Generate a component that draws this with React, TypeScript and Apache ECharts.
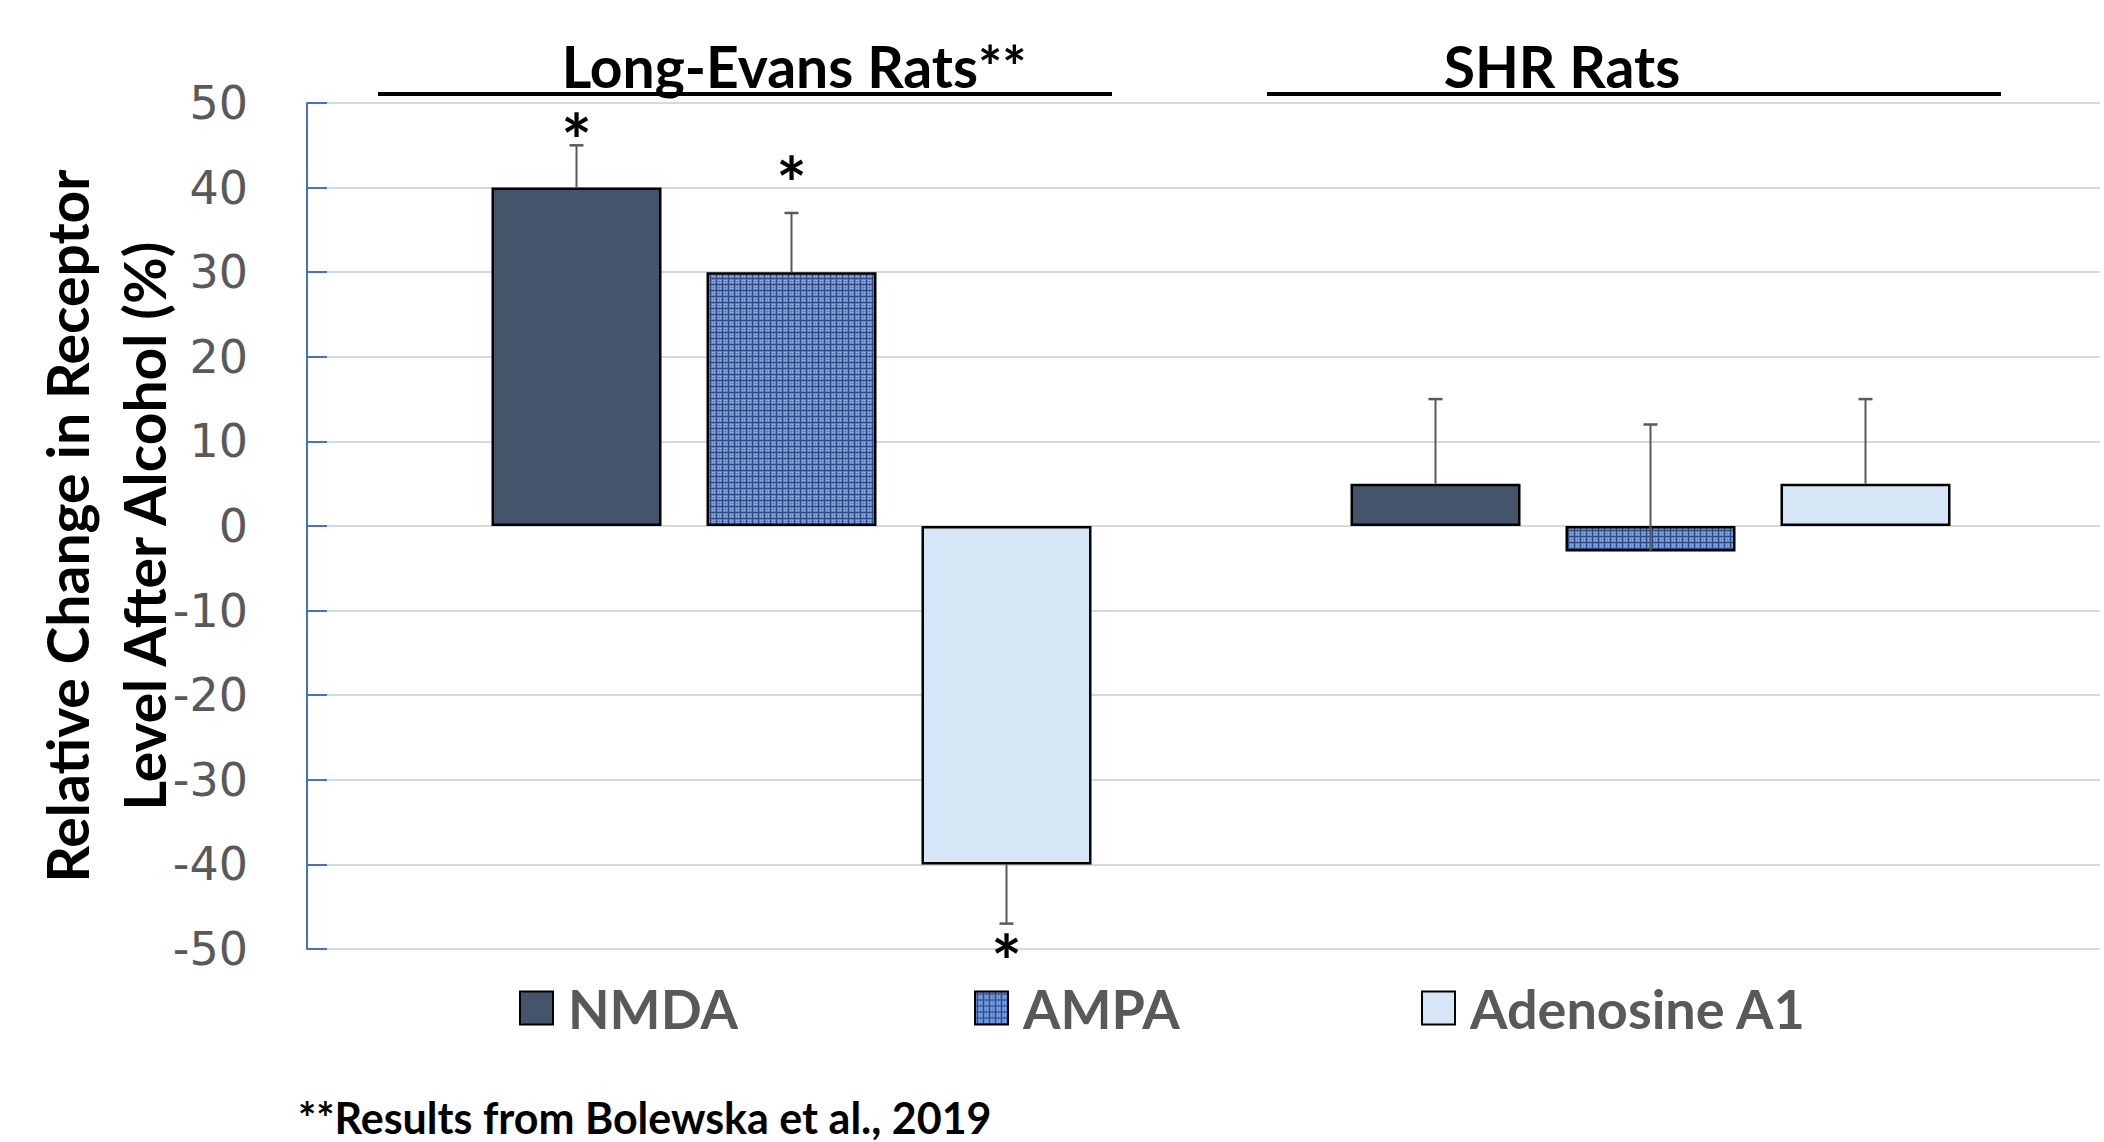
import React, { useEffect, useRef } from 'react';
import * as echarts from 'echarts';

// ---------- data ----------
const groups = ['Long-Evans Rats**', 'SHR Rats'];
const seriesNames = ['NMDA', 'AMPA', 'Adenosine A1'];
const nmdaValues = [40, 5];
const ampaValues = [30, -3];
const adenosineValues = [-40, 5];
const nmdaErrorEnds = [45, 15];
const ampaErrorEnds = [37, 12];
const adenosineErrorEnds = [-47, 15];
// value at which a significance asterisk is drawn (null = none)
const nmdaAsterisk = [47, null];
const ampaAsterisk = [42, null];
const adenosineAsterisk = [-50, null];
const yMin = -50;
const yMax = 50;
const yInterval = 10;
const yAxisTitleLines = ['Relative Change in Receptor', 'Level After Alcohol (%)'];
const footnote = '**Results from Bolewska et al., 2019';

// ---------- style ----------
const FONT = 'Lato, "Open Sans", sans-serif';
const BAR_W = 170;
const BAR_GAP = 45;
const ERR_COLOR = '#595959';

function makeWeave(): HTMLCanvasElement {
  const c = document.createElement('canvas');
  c.width = 6;
  c.height = 6;
  const g = c.getContext('2d')!;
  g.fillStyle = '#5f86c9';
  g.fillRect(0, 0, 6, 6);
  g.fillStyle = '#2c4a88';
  g.fillRect(0, 2, 6, 1);
  g.fillRect(2, 0, 1, 6);
  g.fillStyle = '#9dbbee';
  g.fillRect(4, 4, 1, 1);
  g.fillRect(0, 0, 1, 1);
  g.fillRect(4, 0, 1, 1);
  g.fillRect(0, 4, 1, 1);
  return c;
}

export default function App() {
  const ref = useRef<HTMLDivElement>(null);
  useEffect(() => {
    document.body.style.margin = '0';
    const chart = echarts.init(ref.current!, null, { renderer: 'svg' });
    const weave = makeWeave();
    const colors = [
      '#44546a',
      { image: weave, repeat: 'repeat' } as any,
      '#d6e6f7',
    ];
    const values = [nmdaValues, ampaValues, adenosineValues];
    const ends = [nmdaErrorEnds, ampaErrorEnds, adenosineErrorEnds];
    const stars = [nmdaAsterisk, ampaAsterisk, adenosineAsterisk];

    const barSeries = seriesNames.map((name, i) => ({
      name,
      type: 'bar',
      xAxisIndex: 1,
      yAxisIndex: 1,
      barWidth: BAR_W,
      barGap: (BAR_GAP / BAR_W) * 100 + '%',
      data: values[i],
      itemStyle: { color: colors[i], borderColor: '#000', borderWidth: 2.5 },
      z: 2,
    }));

    const errSeries = seriesNames.map((name, i) => ({
      type: 'custom',
      xAxisIndex: 1,
      yAxisIndex: 1,
      z: 5,
      silent: true,
      data: values[i].map((v, k) => [k, v, ends[i][k], stars[i][k] == null ? NaN : stars[i][k]]),
      renderItem: (params: any, api: any) => {
        const c = api.value(0);
        const v = api.value(1);
        const e = api.value(2);
        const s = api.value(3);
        const off = (i - 1) * (BAR_W + BAR_GAP);
        const p0 = api.coord([c, v]);
        const p1 = api.coord([c, e]);
        const x = p0[0] + off;
        const children: any[] = [
          { type: 'line', shape: { x1: x, y1: p0[1], x2: x, y2: p1[1] }, style: { stroke: ERR_COLOR, lineWidth: 2 } },
          { type: 'line', shape: { x1: x - 7, y1: p1[1], x2: x + 7, y2: p1[1] }, style: { stroke: ERR_COLOR, lineWidth: 2.5 } },
        ];
        if (s === s && s != null && !isNaN(s)) {
          const ps = api.coord([c, s]);
          children.push({
            type: 'text',
            x,
            y: ps[1] + 12,
            style: {
              text: '*',
              fill: '#000',
              fontSize: 72,
              fontWeight: 'bold',
              fontFamily: FONT,
              align: 'center',
              verticalAlign: 'middle',
            },
          });
        }
        return { type: 'group', children };
      },
    }));

    const legendLefts = [514, 969, 1416];
    const legends = seriesNames.map((n, i) => ({
      data: [n],
      left: legendLefts[i],
      top: 976,
      itemWidth: 33,
      itemHeight: 33,
      icon: 'rect',
      selectedMode: false,
      textStyle: {
        color: '#595959',
        fontSize: 54,
        fontWeight: 'bold',
        fontFamily: FONT,
        lineHeight: 40,
        padding: [0, 0, 0, 10],
      },
    }));

    const titleText = (text: string, x: number, y: number) => ({
      type: 'text',
      x,
      y,
      style: { text, fill: '#000', fontSize: 57, fontWeight: 'bold', fontFamily: FONT, align: 'center', verticalAlign: 'middle' },
    });

    chart.setOption({
      animation: false,
      backgroundColor: '#fff',
      grid: [
        { left: 307, right: 4, top: 103, bottom: 193 },
        { left: 362, right: 24, top: 103, bottom: 193 },
      ],
      xAxis: [
        { type: 'category', gridIndex: 0, data: [''], show: false },
        { type: 'category', gridIndex: 1, data: groups, show: false },
      ],
      yAxis: [
        {
          type: 'value',
          gridIndex: 0,
          min: yMin,
          max: yMax,
          interval: yInterval,
          axisLine: { show: true, lineStyle: { color: '#4472c4', width: 2 } },
          axisTick: { show: true, inside: true, length: 20, lineStyle: { color: '#4472c4', width: 2 } },
          axisLabel: { color: '#595959', fontSize: 46, fontFamily: 'DejaVu Sans', margin: 59 },
          splitLine: { show: true, lineStyle: { color: '#d9d9d9', width: 2 } },
        },
        { type: 'value', gridIndex: 1, min: yMin, max: yMax, interval: yInterval, show: false, splitLine: { show: false } },
      ],
      legend: legends,
      series: [...barSeries, ...errSeries],
      graphic: [
        titleText(groups[0], 794, 66),
        titleText(groups[1], 1562, 66),
        { type: 'line', shape: { x1: 378, y1: 94, x2: 1112, y2: 94 }, style: { stroke: '#000', lineWidth: 4 } },
        { type: 'line', shape: { x1: 1267, y1: 94, x2: 2001, y2: 94 }, style: { stroke: '#000', lineWidth: 4 } },
        {
          type: 'text', x: 67, y: 526, rotation: Math.PI / 2,
          style: { text: yAxisTitleLines[0], fill: '#000', fontSize: 57, fontWeight: 'bold', fontFamily: FONT, align: 'center', verticalAlign: 'middle' },
        },
        {
          type: 'text', x: 144, y: 526, rotation: Math.PI / 2,
          style: { text: yAxisTitleLines[1], fill: '#000', fontSize: 57, fontWeight: 'bold', fontFamily: FONT, align: 'center', verticalAlign: 'middle' },
        },
        {
          type: 'text', x: 298, y: 1117,
          style: { text: footnote, fill: '#000', fontSize: 43, fontWeight: 'bold', fontFamily: FONT, align: 'left', verticalAlign: 'middle' },
        },
      ],
    });
    return () => chart.dispose();
  }, []);
  return <div ref={ref} style={{ position: 'fixed', left: 0, top: 0, width: 2104, height: 1142 }} />;
}
